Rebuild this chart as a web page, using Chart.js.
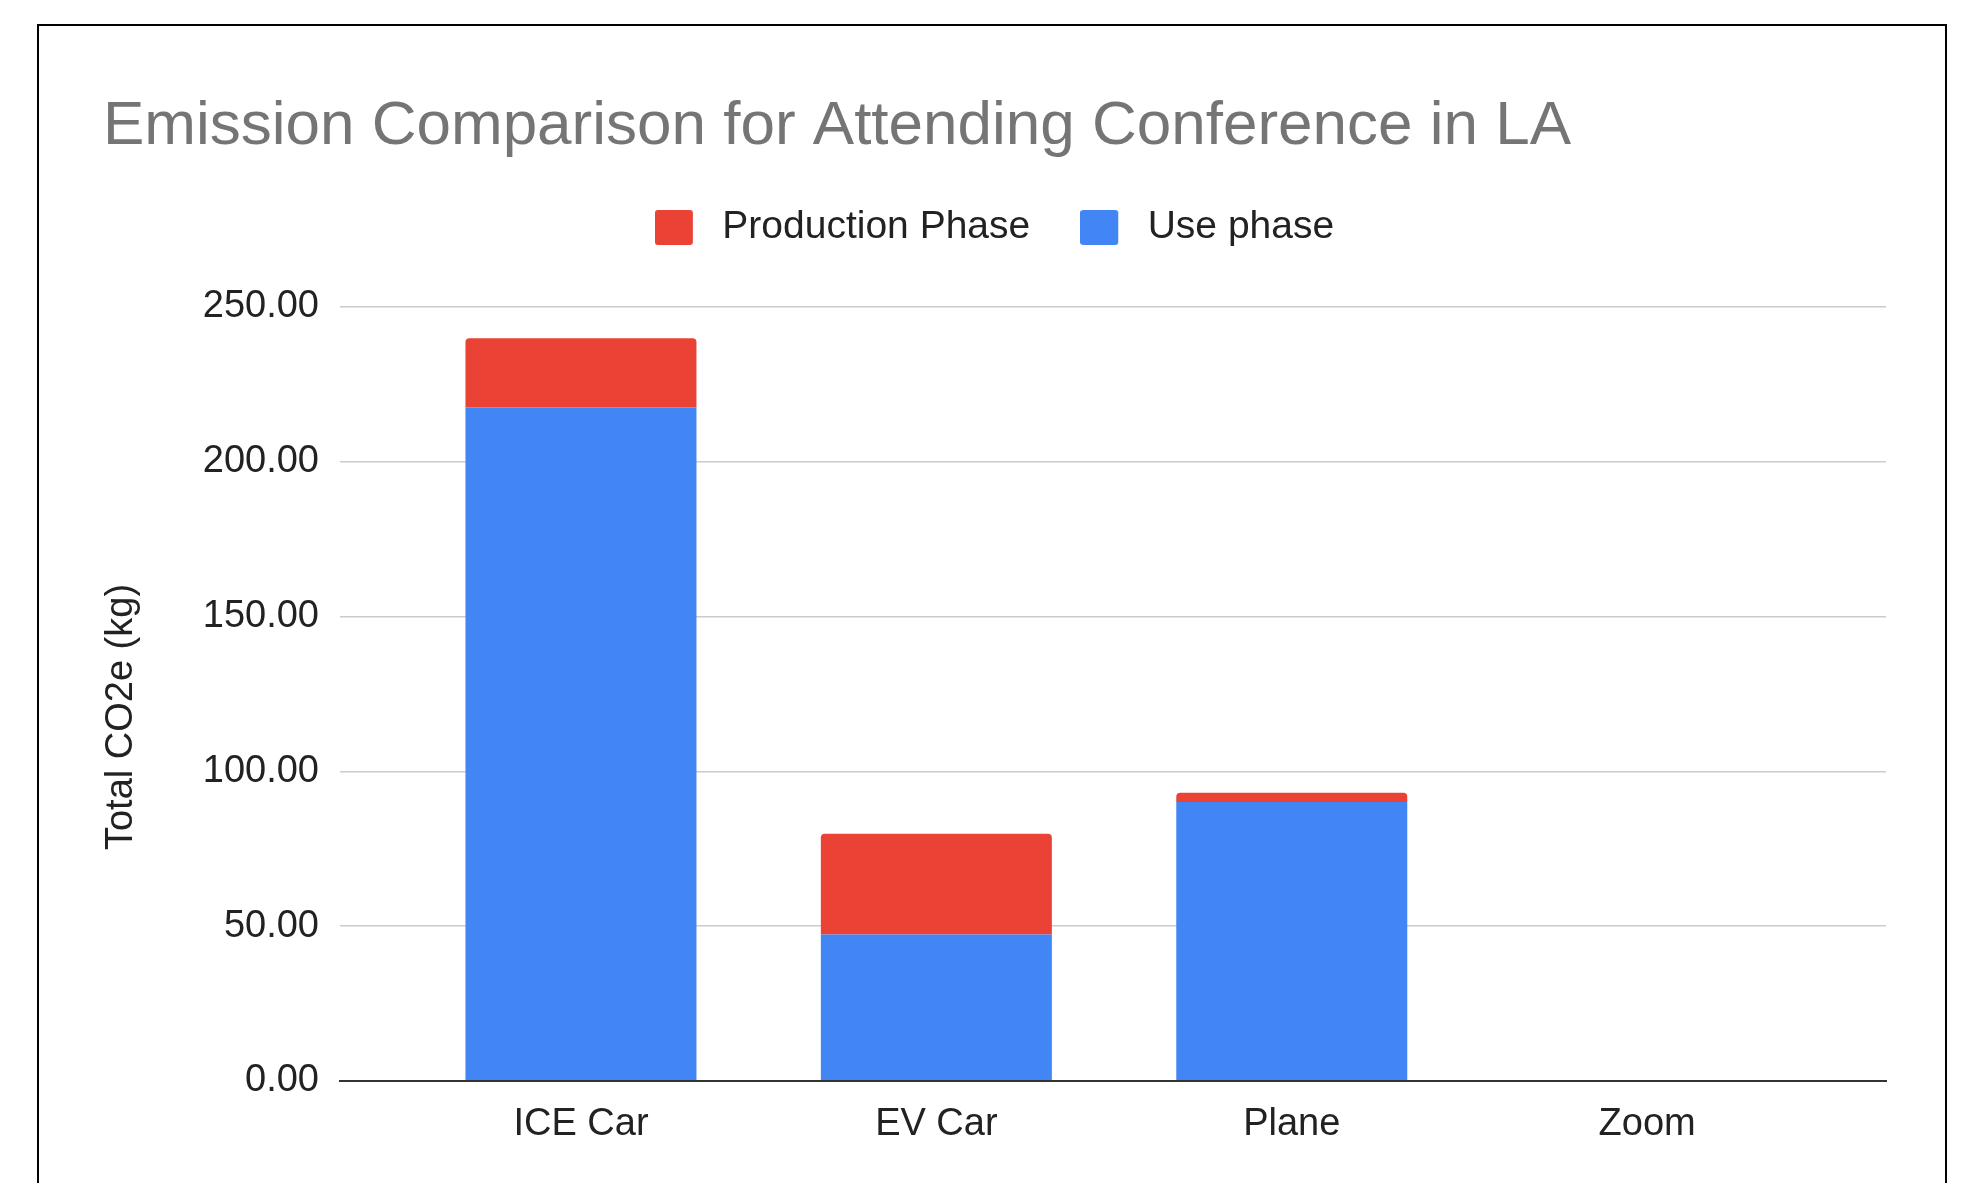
<!DOCTYPE html>
<html><head><meta charset="utf-8">
<script src="https://cdn.jsdelivr.net/npm/chart.js@4.4.1/dist/chart.umd.min.js"></script>
<style>
html,body{margin:0;padding:0;background:#fff;overflow:hidden}
#wrap{position:absolute;left:0;top:0;width:1969px;height:1183px}
#frame{position:absolute;left:37px;top:24px;width:1910px;height:1250px;border:2px solid #000;box-sizing:border-box;pointer-events:none}
</style></head><body>
<div id="frame"></div>
<div id="wrap"><canvas id="c"></canvas></div>
<script>
// ---- data ----
const categories = ['ICE Car', 'EV Car', 'Plane', 'Zoom'];
const usePhase = [217.5, 47.3, 90.1, 0];
const productionPhase = [22.4, 32.6, 3.0, 0];
const yTickValues = [0, 50, 100, 150, 200, 250];
const seriesNames = ['Use phase', 'Production Phase'];
const chartTitle = 'Emission Comparison for Attending Conference in LA';
const yAxisTitle = 'Total CO2e (kg)';

const BLUE = '#4285F4';
const RED = '#EA4335';

Chart.defaults.font.family = "'Liberation Sans', Arial, sans-serif";

// legend swatch: 38x35 rounded square, placed in the left part of a 48px-wide image
function swatch(color) {
  const c = document.createElement('canvas');
  c.width = 48; c.height = 35;
  const g = c.getContext('2d');
  g.fillStyle = color;
  g.beginPath();
  if (g.roundRect) g.roundRect(0, 0, 38, 35, 3); else g.rect(0, 0, 38, 35);
  g.fill();
  return c;
}

const toPoints = arr => arr.map((v, i) => ({x: i, y: v}));

new Chart(document.getElementById('c'), {
  type: 'bar',
  data: {
    datasets: [
      {
        label: seriesNames[0],
        data: toPoints(usePhase),
        backgroundColor: BLUE,
        borderRadius: 0,
        pointStyle: swatch(BLUE),
        xAxisID: 'x', yAxisID: 'y'
      },
      {
        label: seriesNames[1],
        data: toPoints(productionPhase),
        backgroundColor: RED,
        borderRadius: {topLeft: 4, topRight: 4, bottomLeft: 0, bottomRight: 0},
        borderSkipped: 'start',
        pointStyle: swatch(RED),
        xAxisID: 'x', yAxisID: 'y'
      }
    ]
  },
  options: {
    responsive: true,
    maintainAspectRatio: false,
    animation: false,
    barPercentage: 0.65,
    categoryPercentage: 1,
    layout: {padding: {top: 0, left: 103, right: 83, bottom: 0}},
    plugins: {
      title: {
        display: true,
        text: chartTitle,
        align: 'start',
        color: '#757575',
        font: {size: 62, weight: 'normal', lineHeight: 1},
        padding: {top: 96, bottom: 0}
      },
      legend: {
        display: true,
        position: 'top',
        reverse: true,
        labels: {
          usePointStyle: true,
          pointStyleWidth: 48,
          boxWidth: 38,
          boxHeight: 35,
          padding: 50,
          color: '#222222',
          font: {size: 39}
        }
      },
      tooltip: {enabled: false}
    },
    scales: {
      x: {
        type: 'linear',
        position: 'bottom',
        stacked: true,
        offset: false,
        min: -0.678,
        max: 3.672,
        afterBuildTicks: s => { s.ticks = categories.map((c, i) => ({value: i})); },
        afterFit: s => { s.height = 102; },
        grid: {display: false, drawTicks: false, offset: false},
        border: {display: true, color: '#333333', width: 2},
        ticks: {
          color: '#222222',
          font: {size: 38},
          padding: 21,
          maxRotation: 0,
          autoSkip: false,
          callback: v => categories[v]
        }
      },
      gap: {
        type: 'linear',
        axis: 'x',
        position: 'top',
        display: true,
        min: 0, max: 1,
        grid: {display: false, drawTicks: false},
        border: {display: false},
        ticks: {display: false},
        afterFit: s => { s.height = 50; }
      },
      y: {
        type: 'linear',
        stacked: true,
        min: 0,
        max: 250,
        afterBuildTicks: s => { s.ticks = yTickValues.map(v => ({value: v})); },
        afterFit: s => {
          s.width = 237;
          if (!s._titleShifted) {
            const orig = s.drawTitle;
            s.drawTitle = function () {
              this.ctx.save();
              this.ctx.translate(0, 23);
              orig.call(this);
              this.ctx.restore();
            };
            s._titleShifted = true;
          }
        },
        grid: {
          drawTicks: false,
          color: ctx => (ctx.tick && ctx.tick.value === 0) ? '#333333' : '#cccccc',
          lineWidth: ctx => (ctx.tick && ctx.tick.value === 0) ? 2 : 1.5
        },
        border: {display: false},
        ticks: {
          color: '#222222',
          font: {size: 38},
          padding: 21,
          callback: v => Number(v).toFixed(2)
        },
        title: {
          display: true,
          text: yAxisTitle,
          color: '#222222',
          font: {size: 38, lineHeight: 1},
          padding: {top: 0, bottom: 0}
        }
      }
    }
  }
});
</script>
</body></html>
